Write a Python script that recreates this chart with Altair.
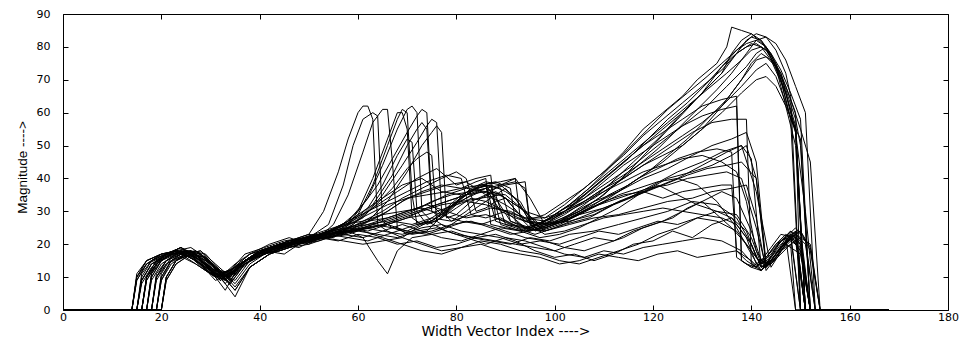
import altair as alt
import pandas as pd

x_ticks = [0, 20, 40, 60, 80, 100, 120, 140, 160, 180]
y_ticks = [0, 10, 20, 30, 40, 50, 60, 70, 80, 90]
x_title = "Width Vector Index ---->"
y_title = "Magnitude ---->"

# each series: (index, magnitude) key points
s01 = [(0,0),(14,0),(15,9),(17,14),(19,16),(23,18),(26,16),(29,12),(32,10),(35,14),(38,17),(42,19),(46,21),(50,23),(53,30),(56,42),(58,52),(60,60),(61,62),(62,62),(63,58),(64,26),(66,24),(69,22),(72,25),(76,28),(80,33),(83,36),(86,38),(88,27),(92,25),(96,23),(100,25),(105,28),(110,31),(115,34),(120,38),(125,42),(130,45),(134,48),(138,50),(140,46),(142,13),(144,14),(146,18),(148,20),(149,0),(168,0)]
s02 = [(0,0),(15,0),(16,8),(18,13),(21,17),(24,19),(27,15),(30,11),(33,9),(36,14),(40,18),(44,20),(48,19),(52,22),(55,26),(58,35),(61,48),(63,57),(65,61),(66,61),(67,45),(68,25),(70,23),(74,24),(78,30),(81,34),(84,37),(87,38),(89,26),(93,24),(97,26),(101,30),(106,34),(111,39),(116,44),(121,50),(126,56),(131,62),(135,68),(139,74),(141,78),(143,80),(146,70),(148,58),(150,0),(168,0)]
s03 = [(0,0),(16,0),(17,10),(19,15),(22,17),(25,18),(28,15),(31,11),(34,10),(37,15),(41,18),(45,17),(49,21),(53,22),(57,24),(60,30),(63,40),(66,52),(68,60),(69,60),(70,55),(71,28),(73,26),(76,27),(79,31),(82,35),(85,38),(88,39),(91,37),(92,27),(95,24),(99,26),(103,29),(108,33),(113,36),(118,40),(123,43),(128,47),(132,50),(136,52),(139,54),(141,45),(143,14),(146,20),(149,22),(151,0),(168,0)]
s04 = [(0,0),(17,0),(18,11),(20,16),(23,18),(26,17),(29,13),(32,9),(35,12),(38,16),(42,19),(46,21),(50,22),(54,24),(58,27),(62,34),(65,44),(68,55),(70,61),(71,62),(72,60),(73,30),(75,27),(78,30),(81,34),(84,37),(87,38),(90,36),(93,33),(96,25),(100,27),(105,30),(110,35),(115,42),(120,50),(125,58),(130,66),(134,74),(137,79),(140,83),(142,82),(145,74),(147,62),(149,50),(151,0),(168,0)]
s05 = [(0,0),(18,0),(19,10),(21,15),(24,17),(27,16),(30,12),(33,6),(36,14),(40,18),(44,19),(48,21),(52,23),(56,25),(60,30),(64,38),(67,46),(70,54),(72,59),(73,61),(74,60),(75,32),(77,29),(80,33),(83,37),(86,39),(89,38),(92,34),(95,27),(98,24),(102,26),(107,28),(112,32),(117,35),(122,38),(127,41),(131,43),(135,44),(138,45),(141,40),(143,14),(145,19),(148,24),(150,20),(152,0),(168,0)]
s06 = [(0,0),(19,0),(20,9),(22,14),(25,17),(28,18),(31,14),(34,10),(37,15),(41,17),(45,20),(49,22),(53,23),(57,25),(61,28),(65,35),(69,44),(72,51),(74,56),(75,58),(76,57),(77,30),(79,27),(82,30),(85,34),(88,36),(91,33),(94,30),(97,25),(101,27),(106,32),(111,38),(116,45),(121,52),(126,60),(130,66),(134,72),(137,78),(140,81),(142,80),(144,76),(147,66),(149,54),(151,30),(153,0),(168,0)]
s07 = [(0,0),(20,0),(21,10),(23,15),(26,17),(29,15),(32,10),(35,4),(38,13),(42,17),(46,19),(50,21),(54,22),(58,24),(62,27),(66,33),(70,42),(73,50),(75,54),(76,56),(77,54),(78,28),(80,29),(83,33),(86,35),(89,38),(92,40),(95,34),(98,26),(103,27),(108,29),(113,33),(118,36),(123,40),(128,42),(132,44),(136,47),(139,50),(141,40),(143,13),(145,17),(148,23),(150,24),(152,18),(154,0),(168,0)]
s08 = [(0,0),(14,0),(15,11),(17,15),(20,17),(23,17),(27,14),(31,10),(34,12),(38,17),(42,20),(46,22),(50,20),(54,24),(58,26),(62,31),(65,38),(68,47),(70,52),(71,51),(72,30),(74,26),(77,28),(80,31),(83,34),(86,33),(90,30),(94,25),(98,24),(103,26),(108,28),(113,29),(118,31),(123,33),(128,34),(132,36),(136,37),(139,38),(141,28),(143,12),(145,16),(148,22),(150,0),(168,0)]
s09 = [(0,0),(15,0),(16,9),(18,14),(21,17),(24,19),(28,15),(32,9),(35,13),(39,17),(43,19),(47,21),(51,23),(55,22),(59,26),(63,31),(67,37),(70,43),(72,46),(74,48),(75,47),(76,27),(78,25),(81,28),(84,31),(87,34),(90,37),(93,32),(96,24),(100,26),(105,29),(110,31),(115,34),(120,37),(125,40),(130,44),(135,48),(138,50),(141,36),(144,13),(147,20),(150,17),(152,0),(168,0)]
s10 = [(0,0),(16,0),(17,9),(19,14),(22,17),(25,18),(28,15),(31,12),(34,11),(37,15),(41,18),(45,19),(49,21),(53,22),(57,24),(61,27),(65,30),(69,34),(73,37),(77,40),(80,42),(82,40),(84,30),(86,31),(88,33),(90,34),(94,27),(98,26),(102,30),(106,35),(110,40),(114,45),(118,50),(122,55),(126,60),(130,66),(134,72),(136,78),(138,82),(140,84),(142,82),(144,78),(146,70),(148,58),(150,52),(152,0),(168,0)]
s11 = [(0,0),(17,0),(18,10),(20,15),(23,18),(26,19),(29,16),(32,11),(35,9),(38,15),(42,18),(46,20),(50,22),(54,23),(58,25),(62,24),(66,26),(70,28),(74,31),(78,33),(82,35),(86,37),(90,34),(94,27),(98,29),(102,33),(106,37),(110,42),(114,48),(118,55),(122,60),(126,65),(129,70),(133,75),(135,80),(136,86),(138,85),(140,84),(143,80),(146,72),(148,60),(149,55),(151,0),(168,0)]
s12 = [(0,0),(18,0),(19,11),(21,15),(24,17),(27,18),(30,14),(33,9),(36,14),(40,17),(44,20),(48,21),(52,22),(56,25),(60,28),(64,32),(68,36),(72,40),(76,43),(80,38),(84,40),(87,41),(88,28),(91,26),(95,25),(99,28),(103,32),(107,37),(111,42),(115,47),(119,52),(123,58),(127,63),(131,69),(134,74),(137,78),(139,80),(141,81),(143,79),(145,74),(147,66),(149,56),(151,0),(168,0)]
s13 = [(0,0),(19,0),(20,10),(22,15),(25,18),(28,17),(31,13),(34,8),(37,14),(41,18),(45,19),(49,22),(53,23),(57,24),(61,26),(65,29),(69,33),(73,36),(77,38),(81,37),(85,38),(89,39),(92,40),(93,28),(95,25),(99,27),(103,31),(107,36),(111,41),(115,46),(119,52),(123,57),(127,62),(131,67),(135,72),(138,76),(140,79),(142,80),(144,78),(146,73),(148,66),(150,58),(152,0),(168,0)]
s14 = [(0,0),(20,0),(21,9),(23,14),(26,17),(29,16),(32,12),(35,7),(38,13),(42,17),(46,20),(50,22),(54,23),(58,25),(62,27),(66,28),(70,30),(74,32),(78,35),(82,37),(86,36),(90,38),(94,39),(95,26),(97,24),(101,27),(105,30),(109,34),(113,39),(117,44),(121,49),(125,55),(129,61),(133,67),(136,72),(139,78),(141,82),(143,83),(145,81),(147,76),(149,68),(151,60),(153,0),(168,0)]
s15 = [(0,0),(14,0),(15,10),(17,15),(20,17),(23,18),(27,15),(31,11),(34,12),(38,17),(42,19),(46,20),(50,22),(54,24),(58,25),(62,27),(66,30),(70,34),(74,36),(78,38),(82,39),(86,35),(90,32),(94,28),(98,27),(102,30),(106,34),(110,39),(114,44),(118,48),(122,52),(126,56),(130,59),(134,61),(137,62),(138,15),(140,13),(142,12),(144,16),(146,21),(148,23),(150,0),(168,0)]
s16 = [(0,0),(15,0),(16,9),(18,14),(21,16),(24,18),(28,14),(32,10),(35,13),(39,17),(43,19),(47,21),(51,22),(55,24),(59,24),(63,26),(67,28),(71,30),(75,33),(79,35),(83,36),(86,37),(89,30),(92,28),(96,26),(100,28),(104,31),(108,34),(112,38),(116,42),(120,46),(124,50),(128,54),(132,57),(136,58),(139,58),(140,14),(142,12),(145,17),(148,22),(150,20),(152,0),(168,0)]
s17 = [(0,0),(16,0),(17,10),(19,14),(22,17),(25,18),(28,15),(31,11),(34,10),(37,15),(41,18),(45,20),(49,21),(53,23),(57,24),(61,25),(65,26),(69,28),(73,30),(77,32),(81,33),(85,34),(89,35),(93,31),(97,26),(101,27),(105,30),(109,33),(113,36),(117,40),(121,43),(125,46),(129,48),(133,49),(136,48),(137,16),(139,14),(141,13),(143,17),(146,23),(149,22),(151,0),(168,0)]
s18 = [(0,0),(17,0),(18,10),(20,15),(23,17),(26,18),(29,14),(32,9),(35,13),(38,16),(42,19),(46,21),(50,23),(54,22),(58,24),(61,22),(64,15),(66,11),(68,18),(71,22),(75,23),(79,24),(83,22),(87,21),(91,20),(95,22),(99,21),(103,23),(108,24),(113,26),(118,28),(123,30),(128,33),(133,32),(137,28),(140,20),(142,13),(144,15),(146,19),(148,22),(150,18),(152,0),(168,0)]
s19 = [(0,0),(18,0),(19,9),(21,14),(24,16),(27,17),(30,13),(33,10),(36,14),(40,18),(44,20),(48,21),(52,22),(56,21),(60,23),(64,22),(68,20),(72,21),(76,19),(80,20),(84,22),(88,23),(92,21),(96,18),(100,16),(104,17),(108,15),(112,17),(116,20),(120,21),(124,24),(128,22),(132,26),(136,28),(139,24),(141,16),(143,13),(145,16),(147,21),(149,24),(151,0),(168,0)]
s20 = [(0,0),(19,0),(20,11),(22,16),(25,18),(28,17),(31,13),(34,9),(37,15),(41,18),(45,20),(49,21),(53,23),(57,25),(61,24),(65,22),(69,20),(73,18),(77,17),(81,19),(85,21),(89,20),(93,18),(97,17),(101,15),(105,14),(109,16),(113,18),(117,20),(121,23),(125,25),(129,28),(133,30),(137,29),(140,22),(142,14),(144,16),(146,19),(148,23),(150,21),(152,0),(168,0)]
s21 = [(0,0),(20,0),(21,10),(23,15),(26,17),(29,16),(32,11),(35,6),(38,13),(42,17),(46,19),(50,20),(54,22),(58,23),(62,25),(66,26),(70,24),(74,23),(78,25),(82,27),(86,26),(90,24),(94,22),(98,21),(102,19),(106,18),(110,20),(114,22),(118,25),(122,27),(126,30),(130,33),(134,36),(137,34),(140,24),(142,15),(144,14),(146,17),(148,20),(150,22),(152,20),(154,0),(168,0)]
s22 = [(0,0),(14,0),(15,9),(17,14),(20,16),(23,18),(27,15),(31,11),(34,12),(38,16),(42,18),(46,20),(50,21),(54,23),(58,22),(62,21),(66,23),(70,25),(74,27),(78,24),(82,22),(86,20),(90,22),(94,21),(98,19),(102,17),(106,16),(110,18),(114,17),(118,19),(122,20),(126,21),(130,22),(134,21),(138,18),(141,13),(143,16),(145,20),(147,22),(149,0),(168,0)]
s23 = [(0,0),(15,0),(16,10),(18,15),(21,17),(24,19),(28,16),(32,12),(35,11),(39,16),(43,18),(47,20),(51,22),(55,23),(59,24),(63,26),(67,25),(71,23),(75,24),(79,26),(83,27),(87,25),(91,23),(95,24),(99,26),(103,28),(107,31),(111,33),(115,35),(119,37),(123,38),(127,40),(131,41),(135,42),(138,40),(141,25),(143,13),(145,17),(147,21),(149,24),(151,0),(168,0)]
s24 = [(0,0),(16,0),(17,9),(19,14),(22,17),(25,18),(28,14),(31,10),(34,12),(37,17),(41,19),(45,21),(49,22),(53,24),(57,26),(61,27),(65,29),(69,30),(73,31),(77,29),(81,27),(85,26),(89,28),(93,25),(97,24),(101,26),(105,29),(109,32),(113,35),(117,37),(121,39),(125,40),(129,38),(133,33),(137,25),(140,17),(142,12),(144,15),(146,19),(148,22),(150,18),(152,0),(168,0)]
s25 = [(0,0),(17,0),(18,11),(20,15),(23,18),(26,18),(29,15),(32,10),(35,11),(38,16),(42,18),(46,20),(50,22),(54,23),(58,25),(62,26),(66,28),(70,30),(74,32),(78,30),(82,28),(86,29),(90,27),(94,24),(98,25),(102,27),(106,30),(110,33),(114,35),(118,36),(122,34),(126,36),(130,37),(134,38),(136,38),(137,18),(139,15),(141,13),(143,16),(145,20),(147,23),(149,21),(151,0),(168,0)]
s26 = [(0,0),(18,0),(19,10),(21,14),(24,17),(27,18),(30,14),(33,9),(36,13),(40,17),(44,18),(48,20),(52,21),(56,23),(60,24),(64,23),(68,22),(72,24),(76,25),(80,23),(84,22),(88,21),(92,20),(96,19),(100,18),(104,20),(108,22),(112,21),(116,24),(120,26),(124,28),(127,31),(130,33),(133,29),(136,25),(139,20),(142,14),(144,17),(146,21),(148,24),(150,22),(152,0),(168,0)]
s27 = [(0,0),(19,0),(20,9),(22,15),(25,17),(28,17),(31,13),(34,8),(37,14),(41,17),(45,19),(49,21),(53,22),(57,21),(61,20),(65,21),(69,22),(73,20),(77,18),(81,19),(85,20),(89,18),(93,17),(97,16),(101,14),(105,15),(109,17),(113,16),(117,15),(121,17),(125,18),(129,16),(133,17),(137,18),(140,15),(142,12),(144,15),(146,19),(148,22),(150,24),(152,0),(168,0)]
s28 = [(0,0),(20,0),(21,10),(23,15),(26,18),(29,17),(32,12),(35,8),(38,14),(42,18),(46,20),(50,22),(54,23),(58,24),(62,25),(66,26),(70,28),(74,29),(78,31),(82,33),(86,32),(90,30),(94,27),(98,25),(102,27),(106,30),(110,33),(114,37),(118,41),(122,45),(126,50),(130,55),(134,62),(138,70),(140,75),(142,78),(144,76),(146,72),(148,64),(150,55),(152,45),(154,0),(168,0)]
s29 = [(0,0),(14,0),(15,10),(17,14),(20,17),(23,18),(27,15),(31,10),(34,12),(38,16),(42,19),(46,21),(50,22),(54,24),(58,26),(62,29),(66,32),(70,34),(74,35),(78,36),(81,37),(84,39),(86,40),(87,26),(90,25),(94,24),(98,26),(102,29),(106,33),(110,37),(114,41),(118,45),(122,49),(126,53),(130,57),(134,62),(138,68),(141,73),(143,75),(145,71),(147,63),(149,54),(151,0),(168,0)]
s30 = [(0,0),(15,0),(16,11),(18,15),(21,17),(24,19),(28,15),(32,11),(35,13),(39,17),(43,19),(47,20),(51,21),(55,23),(59,24),(63,25),(67,27),(71,26),(75,28),(79,27),(83,29),(87,31),(91,30),(95,27),(99,26),(103,28),(107,31),(111,35),(115,38),(119,42),(123,47),(127,52),(131,58),(135,64),(138,70),(141,76),(143,77),(145,74),(147,68),(149,60),(150,0),(168,0)]
s31 = [(0,0),(16,0),(17,10),(19,14),(22,17),(25,18),(28,15),(31,11),(34,10),(37,15),(41,18),(45,20),(49,22),(53,23),(57,26),(61,30),(65,34),(69,38),(73,40),(77,36),(81,35),(85,38),(89,37),(91,27),(94,25),(98,27),(102,30),(106,33),(110,37),(114,40),(118,44),(122,47),(126,50),(130,55),(134,60),(138,66),(141,70),(143,71),(145,68),(147,62),(149,55),(151,0),(168,0)]
s32 = [(0,0),(17,0),(18,9),(20,14),(23,17),(26,18),(29,14),(32,10),(35,12),(38,16),(42,19),(46,20),(50,22),(54,26),(57,38),(59,50),(61,58),(63,60),(64,59),(65,27),(67,25),(70,24),(74,27),(78,31),(82,34),(85,36),(88,35),(90,26),(94,25),(98,27),(102,31),(106,35),(110,40),(114,45),(118,50),(122,54),(126,58),(130,62),(134,64),(137,65),(138,15),(140,13),(143,16),(146,21),(149,23),(151,0),(168,0)]
s33 = [(0,0),(18,0),(19,10),(21,15),(24,18),(27,17),(30,13),(33,8),(36,14),(40,17),(44,19),(48,21),(52,22),(56,24),(60,29),(63,38),(66,50),(68,58),(69,61),(70,60),(71,35),(72,26),(75,27),(78,31),(81,35),(84,37),(86,38),(88,34),(91,27),(95,25),(99,28),(103,32),(107,37),(111,43),(115,49),(119,55),(123,61),(127,66),(131,71),(134,75),(137,79),(139,81),(141,82),(143,80),(145,75),(147,67),(149,58),(150,50),(152,0),(168,0)]
s34 = [(0,0),(19,0),(20,10),(22,15),(25,17),(28,18),(31,13),(34,9),(37,14),(41,17),(45,19),(49,21),(53,22),(57,23),(61,25),(65,24),(69,23),(73,25),(77,26),(81,24),(85,23),(89,25),(93,24),(97,22),(101,23),(105,25),(109,28),(113,31),(117,35),(121,38),(125,35),(129,32),(133,30),(136,28),(139,22),(141,14),(143,13),(145,16),(147,20),(149,23),(151,20),(153,0),(168,0)]
s35 = [(0,0),(20,0),(21,9),(23,14),(26,17),(29,16),(32,11),(35,6),(38,13),(42,17),(46,19),(50,21),(54,23),(58,24),(62,26),(66,27),(70,29),(74,31),(78,33),(82,35),(86,36),(90,35),(94,30),(98,28),(102,30),(106,33),(110,36),(114,39),(118,42),(122,44),(126,46),(130,47),(134,45),(137,42),(139,33),(141,18),(143,13),(145,17),(147,22),(149,25),(151,21),(153,0),(168,0)]
s36 = [(0,0),(14,0),(15,10),(17,15),(20,17),(23,18),(27,14),(31,10),(34,11),(38,16),(42,19),(46,20),(50,22),(54,24),(58,27),(62,30),(66,33),(70,36),(74,39),(78,41),(81,40),(83,29),(86,28),(90,30),(94,28),(98,28),(102,32),(106,37),(110,42),(114,47),(118,53),(122,58),(126,63),(130,68),(134,73),(137,78),(139,82),(141,84),(143,83),(145,79),(147,72),(148,65),(150,0),(168,0)]
s37 = [(0,0),(15,0),(16,9),(18,14),(21,16),(24,18),(28,15),(32,10),(35,12),(39,16),(43,18),(47,20),(51,21),(55,23),(59,26),(63,32),(67,41),(70,50),(72,55),(73,57),(74,55),(75,30),(77,28),(80,32),(83,35),(86,37),(89,38),(92,39),(94,37),(95,26),(98,23),(102,24),(106,26),(110,28),(114,29),(118,30),(122,31),(126,30),(130,29),(134,28),(137,26),(140,20),(142,13),(144,15),(146,19),(148,22),(150,24),(152,19),(154,0),(168,0)]
s38 = [(0,0),(16,0),(17,10),(19,15),(22,17),(25,18),(28,14),(31,9),(34,11),(37,15),(41,17),(45,19),(49,21),(53,22),(57,23),(61,22),(65,24),(69,26),(73,24),(77,22),(81,21),(85,23),(89,22),(93,20),(97,21),(101,20),(105,22),(109,24),(113,23),(117,25),(121,27),(125,26),(129,28),(133,27),(137,24),(140,18),(142,14),(144,15),(146,18),(148,21),(150,19),(152,0),(168,0)]

series = [s01, s02, s03, s04, s05, s06, s07, s08, s09, s10, s11, s12, s13, s14, s15, s16,
          s17, s18, s19, s20, s21, s22, s23, s24, s25, s26, s27, s28, s29, s30, s31, s32,
          s33, s34, s35, s36, s37, s38]

rows = []
for k, pts in enumerate(series):
    for i, (xv, yv) in enumerate(pts):
        rows.append({"series": f"s{k + 1:02d}", "i": i, "x": xv, "y": yv})
df = pd.DataFrame(rows)

xscale = alt.Scale(domain=[0, 180], nice=False, zero=False)
yscale = alt.Scale(domain=[0, 90], nice=False, zero=False)

FONT = "DejaVu Sans"

lines = alt.Chart(df).mark_line(color="black", strokeWidth=1, clip=True).encode(
    x=alt.X("x:Q", scale=xscale, axis=alt.Axis(
        values=x_ticks, orient="bottom", offset=-5, tickSize=5, domain=False, grid=False,
        labelPadding=1, labelFont=FONT, labelFontSize=11, labelColor="black",
        tickColor="black", tickWidth=1, labelFlush=False,
        title=x_title, titleFont=FONT, titleFontSize=14, titleFontWeight="normal",
        titleColor="black", titleY=30, titleBaseline="alphabetic")),
    y=alt.Y("y:Q", scale=yscale, axis=alt.Axis(
        values=y_ticks, orient="left", offset=-5, tickSize=5, domain=False, grid=False,
        labelPadding=13, labelFont=FONT, labelFontSize=11, labelColor="black",
        tickColor="black", tickWidth=1, labelFlush=False,
        title=y_title, titleFont="Liberation Sans", titleFontSize=13.5,
        titleFontWeight="normal", titleColor="black", titleAngle=270,
        titleX=-46, titleY=153, titleAlign="center", titleBaseline="middle")),
    detail="series:N",
    order="i:Q",
)

ghost = alt.Chart(df).mark_line(strokeOpacity=0).encode(
    x=alt.X("x:Q", scale=xscale, axis=alt.Axis(
        values=x_ticks, orient="top", offset=-5, tickSize=5, domain=False, grid=False,
        labels=False, tickColor="black", tickWidth=1, title=None)),
    y=alt.Y("y:Q", scale=yscale, axis=alt.Axis(
        values=y_ticks, orient="right", offset=-5, tickSize=5, domain=False, grid=False,
        labels=False, tickColor="black", tickWidth=1, title=None)),
    detail="series:N",
    order="i:Q",
)

chart = alt.layer(lines, ghost).resolve_axis(x="independent", y="independent").properties(
    width=885, height=296,
    padding={"left": 63, "top": 14, "right": 21, "bottom": 29},
    autosize=alt.AutoSizeParams(type="none"),
    background="white",
).configure_view(stroke="black", strokeWidth=1)

chart.save("out.html", embed_options={"renderer": "svg", "actions": False})
